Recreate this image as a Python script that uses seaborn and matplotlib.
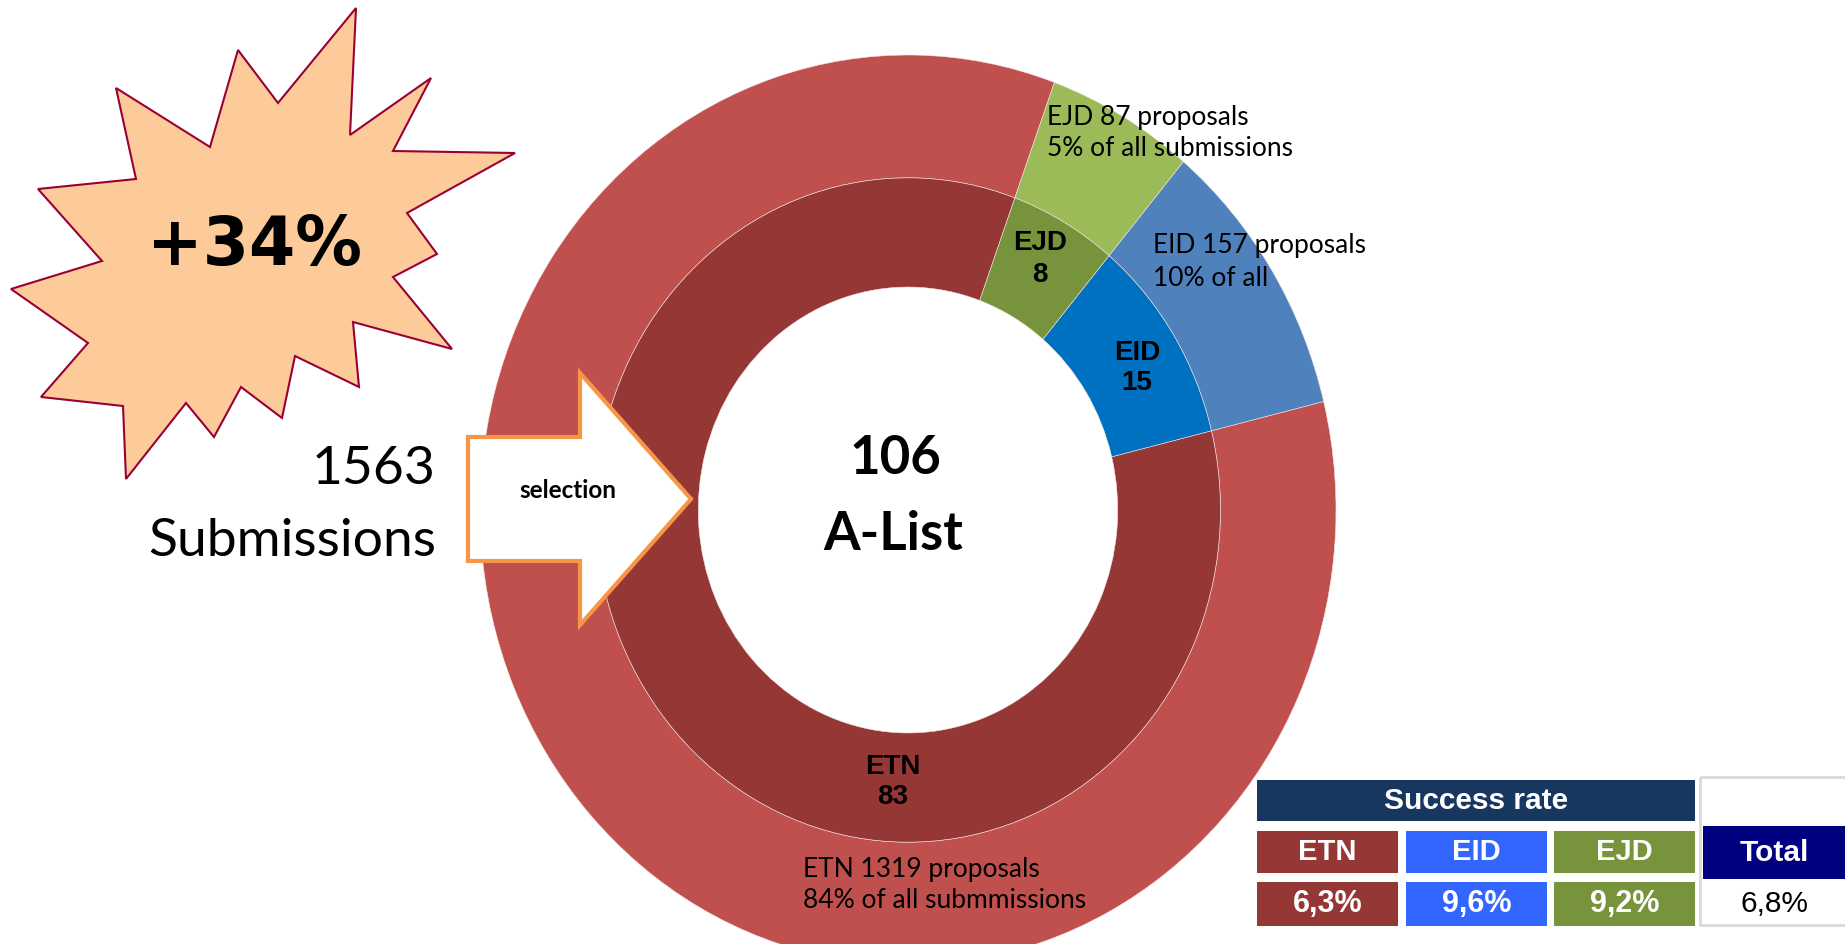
import matplotlib
matplotlib.use("Agg")
import matplotlib.pyplot as plt
import seaborn as sns
from matplotlib.patches import Polygon, Rectangle

# Daten: Einreichungen und A-Liste je Programm
programmes = ["ETN", "EID", "EJD"]
submissions = [1319, 157, 87]
selected = [83, 15, 8]
outer_notes = ["ETN 1319 proposals\n84% of all submmissions",
               "EID 157 proposals\n10% of all",
               "EJD 87 proposals\n5% of all submissions"]
total_submissions = 1563
total_selected = 106
growth_label = "+34%"
table_title = "Success rate"
total_label = "Total"

outer_colors = ["#C0504D", "#4F81BD", "#9BBB59"]
inner_colors = ["#953735", "#0070C0", "#77933C"]
table_colors = ["#953735", "#3366FF", "#77933C"]

sns.set_theme(style="white")
plt.rcParams["font.family"] = ["Lato", "DejaVu Sans"]
plt.rcParams["text.color"] = "black"

W, H = 1845, 944
fig = plt.figure(figsize=(W / 100, H / 100), dpi=100)


def px_axes(x0, y0, w, h):
    return fig.add_axes([x0 / W, 1 - (y0 + h) / H, w / W, h / H])


# Ringdiagramm (leicht elliptisch wie im Original)
cx, cy, rx, ry = 908, 510, 428, 455
axd = px_axes(cx - rx, cy - ry, 2 * rx, 2 * ry)
wp = dict(edgecolor="#F4E4E4", linewidth=0.4)
axd.pie(submissions, radius=1.0, startangle=70, colors=outer_colors,
        wedgeprops=dict(width=0.27, **wp))
axd.pie(submissions, radius=0.73, startangle=70, colors=inner_colors,
        wedgeprops=dict(width=0.24, **wp))
axd.set_aspect("auto")
axd.set_xlim(-1, 1)
axd.set_ylim(-1, 1)
axd.axis("off")

# Overlay in Pixelkoordinaten
ax = fig.add_axes([0, 0, 1, 1])
ax.set_xlim(0, W)
ax.set_ylim(H, 0)
ax.axis("off")
ax.patch.set_alpha(0)

# Stern
star = [(356, 8), (350, 135), (431, 78), (393, 151), (515, 153), (407, 213),
        (437, 254), (393, 277), (452, 349), (353, 322), (359, 387), (295, 356),
        (282, 418), (241, 387), (214, 437), (186, 403), (126, 479), (123, 406),
        (41, 397), (88, 343), (11, 289), (102, 261), (38, 189), (136, 179),
        (116, 88), (210, 147), (238, 50), (278, 103)]
ax.add_patch(Polygon(star, closed=True, facecolor="#FDCB99", edgecolor="#990033", lw=1.5))
ax.text(254, 246, growth_label, ha="center", va="center", fontsize=48,
        fontweight="bold", family="DejaVu Sans")

# Pfeil
arrow = [(468, 437), (580, 437), (580, 373), (691, 499), (580, 625), (580, 561), (468, 561)]
ax.add_patch(Polygon(arrow, closed=True, facecolor="white", edgecolor="#F79646", lw=3))
ax.text(568, 490, "selection", ha="center", va="center", fontsize=17.5, fontweight="bold")

ax.text(436, 484, str(total_submissions), ha="right", va="baseline", fontsize=38.5)
ax.text(436, 556, "Submissions", ha="right", va="baseline", fontsize=38.5)

ax.text(895, 459, str(total_selected), ha="center", va="center", fontsize=38, fontweight="bold")
ax.text(893, 535, "A-List", ha="center", va="center", fontsize=38, fontweight="bold")

# Beschriftung innerer Ring
inner_pos = [(893, 782), (1137, 368), (1040, 259)]
for name, n, (x, y) in zip(programmes, selected, inner_pos):
    ax.text(x, y, f"{name}\n{n}", ha="center", va="center", fontsize=20,
            fontweight="bold", family="Liberation Sans", linespacing=1.25)

# Beschriftung äußerer Ring
outer_pos = [(803, 885), (1153, 262), (1047, 133)]
for note, (x, y) in zip(outer_notes, outer_pos):
    ax.text(x, y, note, ha="left", va="center", fontsize=19, linespacing=1.35)

# Tabelle Erfolgsquote
ax.add_patch(Rectangle((1700, 777), 150, 148, facecolor="none", edgecolor="#D9D9D9", lw=2))
ax.add_patch(Rectangle((1257, 780), 438, 41, facecolor="#17375E", lw=0))
ax.text(1476, 801, table_title, ha="center", va="center", color="white", fontsize=21.5,
        fontweight="bold", family="Liberation Sans")
col_x = [1257, 1406, 1554]
for name, n, s, col, x in zip(programmes, selected, submissions, table_colors, col_x):
    ax.add_patch(Rectangle((x, 831), 141, 42, facecolor=col, lw=0))
    ax.add_patch(Rectangle((x, 882), 141, 44, facecolor=col, lw=0))
    ax.text(x + 70.5, 852, name, ha="center", va="center", color="white", fontsize=21,
            fontweight="bold", family="Liberation Sans")
    rate = f"{100 * n / s:.1f}%".replace(".", ",")
    ax.text(x + 70.5, 904, rate, ha="center", va="center", color="white", fontsize=22,
            fontweight="bold", family="Liberation Sans")
ax.add_patch(Rectangle((1703, 826), 145, 53, facecolor="#000080", lw=0))
ax.text(1774, 853, total_label, ha="center", va="center", color="white", fontsize=21.5,
        fontweight="bold", family="Liberation Sans")
total_rate = f"{100 * total_selected / total_submissions:.1f}%".replace(".", ",")
ax.text(1774, 904, total_rate, ha="center", va="center", color="black", fontsize=21.5,
        family="Liberation Sans")

fig.savefig("out.png", dpi=100)
